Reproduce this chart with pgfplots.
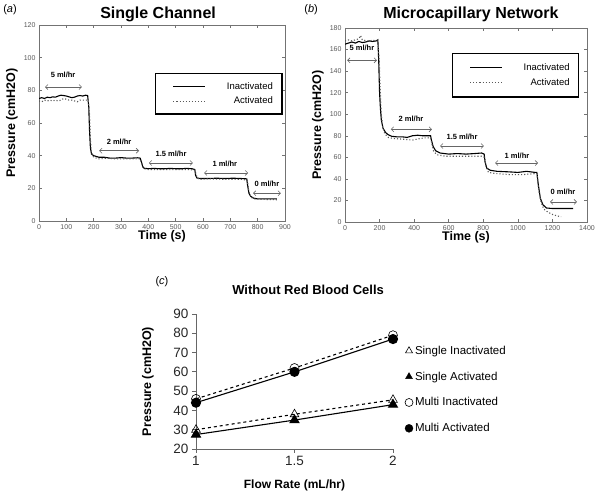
\documentclass[border=0pt]{standalone}
\usepackage{fontspec}
\setmainfont{Liberation Sans}
\usepackage{pgfplots}
\pgfplotsset{compat=1.18}
\usetikzlibrary{arrows.meta}
\definecolor{fr}{gray}{0.45}
\definecolor{tk}{gray}{0.35}
\tikzset{
  arr/.style={black!60, line width=0.6pt, {Straight Barb[length=2.5pt,width=5pt]}-{Straight Barb[length=2.5pt,width=5pt]}},
  lab/.style={font=\bfseries\fontsize{7.5}{8}\selectfont},
}
\pgfplotsset{
  every axis title shift=0pt,
  matlab/.style={
    scale only axis,
    clip mode=individual,
    axis line style={fr, line width=0.7pt},
    tick style={fr, line width=0.5pt},
    tick align=inside,
    major tick length=3pt,
    /pgf/number format/assume math mode=true,
    /pgf/number format/set thousands separator={},
    tick label style={font=\fontsize{7}{8}\selectfont, text=tk},
    xlabel style={font=\bfseries\fontsize{12.5}{13}\selectfont},
    ylabel style={font=\bfseries\fontsize{12.5}{13}\selectfont},
    title style={font=\bfseries\fontsize{16}{17}\selectfont},
    legend style={draw=black, line width=1.3pt, font=\fontsize{9.5}{10}\selectfont,
      inner xsep=7pt, inner ysep=6.5pt, row sep=2.5pt,
      /tikz/every odd column/.append style={column sep=19pt}},
    legend cell align=right,
  },
  myleg/.style={legend image code/.code={\path (0pt,0pt); \draw[##1] (10pt,0pt) -- (42pt,0pt);}},
  inact/.style={black, line width=1.1pt, solid, myleg},
  act/.style={black!65, line width=1.1pt, dotted, myleg},
}
\begin{document}
\begin{tikzpicture}[x=1pt,y=1pt]
\useasboundingbox (0,0) rectangle (600,494);
% ---------------- panel (a)
\begin{axis}[matlab,
  at={(39pt,273pt)}, anchor=south west,
  width=246pt, height=196pt,
  xmin=0, xmax=900, ymin=0, ymax=120,
  xtick={0,100,...,900}, ytick={0,20,...,120},
  xlabel={Time (s)}, ylabel={Pressure (cmH2O)},
  xlabel style={at={(axis description cs:0.5,-0.08)}, anchor=center},
  ylabel style={at={(axis description cs:-0.11,0.5)}, anchor=center},
  title={Single Channel},
  title style={at={(axis description cs:0.484,1.056)}, anchor=center},
  legend style={at={(axis description cs:0.99,0.755)}, anchor=north east},
]
\addplot[inact] coordinates {
(0,75) (10,75.5) (20,75) (30,75.8) (40,75.5) (50,76) (60,75.8) (70,76.5) (80,77) (90,76.8) (100,76.5) (110,76) (120,75.5) (130,75.8) (140,76.5) (150,76.8) (160,76.5) (170,77) (178,76.8) (182,70) (185,55) (188,45) (192,41) (200,40) (210,39.5) (220,39) (240,39) (260,38.5) (280,38.5) (300,38.8) (320,38.5) (340,38.5) (360,38.7) (370,38.5) (375,36) (380,33) (385,32.3) (400,32) (420,32.2) (440,32) (460,32) (480,32.2) (500,32) (520,32) (540,32.2) (560,32) (570,31.5) (573,28) (578,26.3) (590,26) (620,26) (650,26.2) (680,26) (710,26.2) (740,26) (760,25.8) (763,22) (768,17) (775,15) (785,14) (800,13.5) (830,13.5) (870,13.5)
};
\addlegendentry{Inactivated}
\addplot[act] coordinates {
(0,73.5) (10,73) (20,74) (30,73.5) (40,74) (50,73.5) (60,74) (70,73.5) (80,74) (90,75) (100,74.5) (110,74) (120,74) (130,73.5) (140,73) (150,74) (160,74) (170,74) (180,74) (185,65) (188,50) (192,42) (200,39) (220,38) (250,38.5) (280,38) (310,38) (340,38) (370,38) (378,34) (385,32) (400,31.5) (450,31.5) (500,31.5) (550,31.5) (570,31) (578,27) (585,25.5) (620,25.8) (680,25.5) (740,25.5) (762,25) (768,18) (775,14.5) (790,13.5) (830,13.2) (870,13)
};
\addlegendentry{Activated}
\draw[arr] (axis cs:22,82) -- (axis cs:157,82);
\node[lab] at (axis cs:88,89.5) {5 ml/hr};
\draw[arr] (axis cs:220,43) -- (axis cs:366,43);
\node[lab] at (axis cs:293,48.5) {2 ml/hr};
\draw[arr] (axis cs:402,35.5) -- (axis cs:563,35.5);
\node[lab] at (axis cs:483,41) {1.5 ml/hr};
\draw[arr] (axis cs:604,29.4) -- (axis cs:765,29.4);
\node[lab] at (axis cs:680,35) {1 ml/hr};
\draw[arr] (axis cs:783,17) -- (axis cs:885,17);
\node[lab] at (axis cs:834,23) {0 ml/hr};
\node[font=\fontsize{11}{12}\selectfont] at (axis description cs:-0.118,1.077) {(\textit{a})};
\end{axis}
% ---------------- panel (b)
\begin{axis}[matlab,
  at={(345pt,272pt)}, anchor=south west,
  width=242pt, height=194pt,
  xmin=0, xmax=1400, ymin=0, ymax=180,
  xtick={0,200,...,1400}, ytick={0,20,...,180},
  xlabel={Time (s)}, ylabel={Pressure (cmH2O)},
  xlabel style={at={(axis description cs:0.5,-0.08)}, anchor=center},
  ylabel style={at={(axis description cs:-0.112,0.5)}, anchor=center},
  title={Microcapillary Network},
  title style={at={(axis description cs:0.52,1.072)}, anchor=center},
  legend style={at={(axis description cs:0.968,0.871)}, anchor=north east, inner ysep=8pt},
]
\addplot[inact] coordinates {
(0,165) (20,166) (40,167) (60,166) (80,167.5) (100,166.5) (120,167) (140,168) (160,167.5) (180,168) (190,169) (195,150) (200,120) (205,105) (210,95) (220,87) (235,83) (250,81) (270,79.5) (300,79) (330,79) (360,78.5) (390,80) (420,80.5) (450,80) (480,80) (495,80) (500,76) (510,70) (525,66) (550,64) (600,63) (650,63.5) (700,63) (750,63.5) (790,64) (805,63) (810,56) (820,50) (840,48) (880,47) (950,46.5) (1000,46) (1050,47) (1100,46) (1110,46) (1118,35) (1130,22) (1145,16) (1165,13) (1200,12.5) (1250,12.5) (1320,12.5)
};
\addlegendentry{Inactivated}
\addplot[act] coordinates {
(0,168) (20,169) (40,168) (60,169) (80,170) (90,173) (100,169) (130,168) (160,168.5) (190,168) (198,150) (203,125) (210,100) (218,88) (230,82) (250,78.5) (280,77.5) (320,77) (360,76.5) (390,76) (420,77) (460,78) (495,78) (503,72) (512,66) (530,62.5) (580,61) (650,61) (720,61) (790,61) (808,60) (815,52) (830,46) (870,45) (950,44) (1030,44) (1110,45) (1120,30) (1135,18) (1150,12) (1175,9) (1200,7) (1230,5.5) (1250,5)
};
\addlegendentry{Activated}
\draw[arr] (axis cs:12,150) -- (axis cs:185,150);
\node[lab] at (axis cs:98,162) {5 ml/hr};
\draw[arr] (axis cs:265,86) -- (axis cs:503,86);
\node[lab] at (axis cs:382,95.5) {2 ml/hr};
\draw[arr] (axis cs:550,70.5) -- (axis cs:804,70.5);
\node[lab] at (axis cs:677,79) {1.5 ml/hr};
\draw[arr] (axis cs:868,54.7) -- (axis cs:1117,54.7);
\node[lab] at (axis cs:995,61) {1 ml/hr};
\draw[arr] (axis cs:1186,18.6) -- (axis cs:1342,18.6);
\node[lab] at (axis cs:1261,28) {0 ml/hr};
\node[font=\fontsize{11}{12}\selectfont] at (axis description cs:-0.14,1.093) {(\textit{b})};
\end{axis}
% ---------------- panel (c)
\begin{axis}[
  scale only axis,
  at={(196pt,45pt)}, anchor=south west,
  width=197pt, height=135pt,
  xmin=1, xmax=2, ymin=20, ymax=90,
  xtick={1,1.5,2}, ytick={20,30,...,90},
  axis lines=left,
  axis line style={black!60, line width=0.8pt, -},
  tick style={black!60, line width=0.8pt},
  tick align=outside, major tick length=4pt,
  /pgf/number format/assume math mode=true,
  tick label style={font=\fontsize{13.5}{14}\selectfont, text=black!85},
  clip=false,
  xlabel={Flow Rate (mL/hr)}, ylabel={Pressure (cmH2O)},
  xlabel style={font=\bfseries\fontsize{12}{13}\selectfont, at={(axis description cs:0.5,-0.267)}, anchor=center},
  ylabel style={font=\bfseries\fontsize{12.5}{13}\selectfont, at={(axis description cs:-0.244,0.5)}, anchor=center},
  title={Without Red Blood Cells},
  title style={font=\bfseries\fontsize{13}{14}\selectfont, at={(axis description cs:0.569,1.178)}, anchor=center},
  legend style={at={(axis description cs:1.06,0.78)}, anchor=north west, draw=none, fill=none,
    font=\fontsize{11.5}{12}\selectfont, row sep=12pt, inner sep=0pt},
  legend cell align=left,
]
\addlegendimage{only marks, mark=triangle, mark size=4pt, mark options={black, line width=0.6pt}}
\addlegendentry{Single Inactivated}
\addlegendimage{only marks, mark=triangle*, mark size=4pt, mark options={black}}
\addlegendentry{Single Activated}
\addlegendimage{only marks, mark=o, mark size=4pt, mark options={black, line width=0.6pt}}
\addlegendentry{Multi Inactivated}
\addlegendimage{only marks, mark=*, mark size=4pt, mark options={black}}
\addlegendentry{Multi Activated}
\addplot[forget plot, black, line width=1.1pt, dashed, mark=triangle, mark size=5pt, mark options={solid, fill=white, line width=0.6pt}] coordinates {(1,30) (1.5,38) (2,45.5)};
\addplot[forget plot, black, line width=1.1pt, mark=triangle*, mark size=5pt] coordinates {(1,27.5) (1.5,35) (2,43)};
\addplot[forget plot, black, line width=1.1pt, dashed, mark=o, mark size=4.5pt, mark options={solid, fill=white, line width=0.6pt}] coordinates {(1,46) (1.5,62) (2,79)};
\addplot[forget plot, black, line width=1.1pt, mark=*, mark size=4.5pt] coordinates {(1,44) (1.5,60) (2,77)};
\node[font=\fontsize{11}{12}\selectfont] at (axis description cs:-0.173,1.237) {(\textit{c})};
\end{axis}
\end{tikzpicture}
\end{document}
